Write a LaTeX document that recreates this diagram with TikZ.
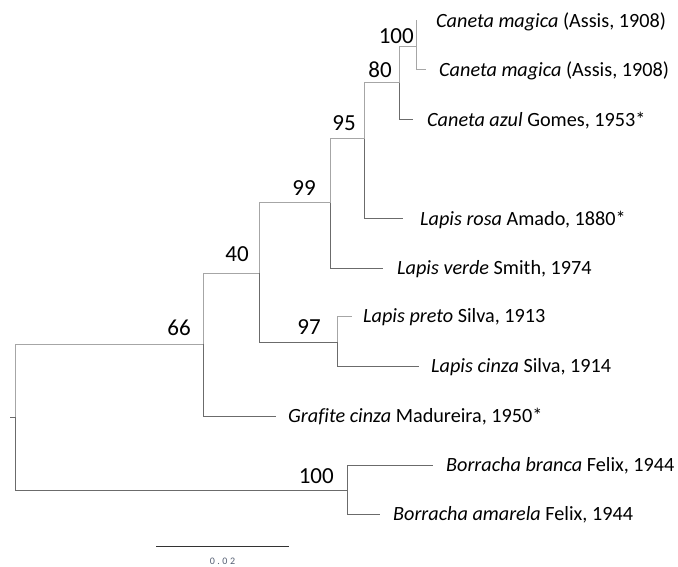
\documentclass[tikz,border=0pt]{standalone}
\usepackage{fontspec}
\setmainfont{Carlito}[Ligatures=NoCommon]
\usetikzlibrary{positioning,calc}
\definecolor{scalegray}{RGB}{85,95,115}

\begin{document}
\begin{tikzpicture}[x=1pt, y=-1pt,
  branch/.style={draw=black!58, line width=1pt},
  faint/.style={draw=black!35, line width=1pt},
  taxon/.style={anchor=base west, inner sep=0pt, yshift=-6.2pt, font=\fontsize{20.2}{23}\selectfont},
  boot/.style={inner sep=0pt, text depth=0pt, font=\fontsize{23}{26}\selectfont},
  scalelab/.style={inner sep=0pt, text=scalegray, font=\fontsize{10}{11}\selectfont\addfontfeatures{LetterSpace=25}}
]
\useasboundingbox (0,0) rectangle (678,567);

% internal nodes
\coordinate (stub) at (10,417);
\coordinate (root) at (15,417);
\coordinate (n66) at (203,344);
\coordinate (n40) at (259,273);
\coordinate (n99) at (330,203);
\coordinate (n95) at (364,139);
\coordinate (n80) at (399,83);
\coordinate (n100c) at (416,47);
\coordinate (n97) at (337,342);
\coordinate (n100b) at (347,490);

% tips
\coordinate (cm1) at (417,21);
\coordinate (cm2) at (426,70);
\coordinate (cazul) at (413,120);
\coordinate (lrosa) at (403,219);
\coordinate (lverde) at (383,268);
\coordinate (lpreto) at (352,316);
\coordinate (lcinza) at (419,366);
\coordinate (graf) at (276,416);
\coordinate (bbranca) at (433,465);
\coordinate (bamarela) at (380,514);

% branches
\draw[branch] (stub) -- (root);
\draw[faint] (root) |- (n66);
\draw[branch] (root) |- (n100b);
\draw[faint] (n66) |- (n40);
\draw[branch] (n66) |- (graf);
\draw[faint] (n40) |- (n99);
\draw[branch] (n40) |- (n97);
\draw[faint] (n99) |- (n95);
\draw[branch] (n99) |- (lverde);
\draw[faint] (n95) |- (n80);
\draw[branch] (n95) |- (lrosa);
\draw[faint] (n80) |- (n100c);
\draw[branch] (n80) |- (cazul);
\draw[faint] (n100c) |- (cm1);
\draw[faint] (n100c) |- (cm2);
\draw[faint] (n97) |- (lpreto);
\draw[branch] (n97) |- (lcinza);
\draw[branch] (n100b) |- (bbranca);
\draw[branch] (n100b) |- (bamarela);

% taxa
\node[right=19pt of cm1, taxon] (tcm1) {\textit{Caneta magica} (Assis, 1908)};
\node[right=13pt of cm2, taxon] (tcm2) {\textit{Caneta magica} (Assis, 1908)};
\node[right=14pt of cazul, taxon] (tcazul) {\textit{Caneta azul} Gomes, 1953*};
\node[right=17pt of lrosa, taxon] (tlrosa) {\textit{Lapis rosa} Amado, 1880*};
\node[right=14pt of lverde, taxon] (tlverde) {\textit{Lapis verde} Smith, 1974};
\node[right=11pt of lpreto, taxon] (tlpreto) {\textit{Lapis preto} Silva, 1913};
\node[right=12pt of lcinza, taxon] (tlcinza) {\textit{Lapis cinza} Silva, 1914};
\node[right=12pt of graf, taxon] (tgraf) {\textit{Grafite cinza} Madureira, 1950*};
\node[right=13pt of bbranca, taxon] (tbbranca) {\textit{Borracha branca} Felix, 1944};
\node[right=13pt of bamarela, taxon] (tbamarela) {\textit{Borracha amarela} Felix, 1944};

% bootstrap values
\node[boot, above left=3pt and 2pt of n100c] (b100c) {100};
\node[boot, above left=5pt and 7pt of n80] (b80) {80};
\node[boot, above left=8pt and 8pt of n95] (b95) {95};
\node[boot, above left=7pt and 14pt of n99] (b99) {99};
\node[boot, above left=11pt and 10pt of n40] (b40) {40};
\node[boot, above left=8pt and 12pt of n66] (b66) {66};
\node[boot, above left=7pt and 16pt of n97] (b97) {97};
\node[boot, above left=6pt and 13pt of n100b] (b100b) {100};

% scale bar
\coordinate (sbl) at (156,546);
\coordinate (sbr) at (289,546);
\draw[draw=black!80, line width=1pt] (sbl) -- (sbr);
\node[scalelab, below=12pt of $(sbl)!0.5!(sbr)$] (sblab) {0.02};
\end{tikzpicture}
\end{document}
